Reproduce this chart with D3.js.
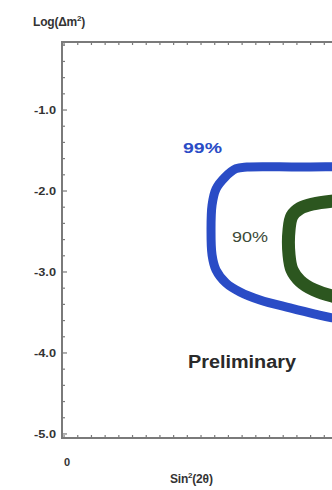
<!DOCTYPE html>
<html>
<head>
<meta charset="utf-8">
<script src="https://cdn.jsdelivr.net/npm/d3@7"></script>
<style>
  html, body { margin: 0; padding: 0; background: #fff; }
  svg { display: block; }
  text { font-family: "Liberation Sans", Arial, sans-serif; }
</style>
</head>
<body>
<svg id="chart" width="332" height="490"></svg>
<script>
// Allowed region contours in the (sin²2θ, log Δm²) plane
const contour99 = [
  [0.2672, -1.704], [0.2511, -1.725], [0.2350, -1.830], [0.2219, -1.975],
  [0.2161, -2.173], [0.2146, -2.481], [0.2161, -2.790], [0.2219, -2.975],
  [0.2365, -3.136], [0.2569, -3.247], [0.2861, -3.346], [0.3299, -3.444],
  [0.3664, -3.520], [0.3912, -3.565], [0.4467, -3.630], [0.5343, -3.346],
  [0.5489, -2.481], [0.5197, -1.741], [0.4613, -1.704], [0.3445, -1.704]
];
const contour90 = [
  [0.3912, -2.125], [0.3635, -2.160], [0.3445, -2.215], [0.3328, -2.309],
  [0.3285, -2.481], [0.3285, -2.790], [0.3328, -2.975], [0.3445, -3.111],
  [0.3650, -3.222], [0.3912, -3.296], [0.4321, -3.346], [0.4759, -3.222],
  [0.4905, -2.728], [0.4759, -2.173], [0.4321, -2.100]
];

// Axis ticks
const yMajorTicks = [-1, -2, -3, -4, -5];
const yTickLabels = ["-1.0", "-2.0", "-3.0", "-4.0", "-5.0"];
const yMinorTicks = d3.range(-5, -0.1, 0.2);
const xMinorTicks = d3.range(0, 0.41, 0.02);
const xTickLabels = [{ v: 0, t: "0" }];

// Contour labels
const levelLabels = [
  { text: "99%", x: 0.1737, y: -1.53, color: "#2a4cc6" },
  { text: "90%", x: 0.2453, y: -2.63, color: "#3c4a38" }
];

const svg = d3.select("#chart");
const plotLeft = 62, plotTop = 42, plotBottom = 438, plotRight = 338;

const x = d3.scaleLinear().domain([-0.003, 0.4]).range([plotLeft, plotRight]);
const y = d3.scaleLinear().domain([-5.05, -0.16]).range([plotBottom, plotTop]);

const plot = svg.append("g");
svg.append("clipPath").attr("id", "plotclip")
  .append("rect").attr("x", plotLeft).attr("y", plotTop)
  .attr("width", plotRight - plotLeft).attr("height", plotBottom - plotTop);

const line = d3.line()
  .x(d => x(d[0])).y(d => y(d[1]))
  .curve(d3.curveCatmullRomClosed.alpha(0.5));

const contours = plot.append("g").attr("clip-path", "url(#plotclip)");
contours.append("path").datum(contour99)
  .attr("d", line).attr("fill", "none")
  .attr("stroke", "#2a4cc6").attr("stroke-width", 9)
  .attr("stroke-linejoin", "round");
contours.append("path").datum(contour90)
  .attr("d", line).attr("fill", "none")
  .attr("stroke", "#2c561f").attr("stroke-width", 13)
  .attr("stroke-linejoin", "round");

// Frame (left, top, bottom)
const axisColor = "#7a7a7a";
plot.append("path")
  .attr("d", `M${plotRight},${plotTop}H${plotLeft}V${plotBottom}H${plotRight}`)
  .attr("fill", "none").attr("stroke", axisColor).attr("stroke-width", 2);

// Inward tick marks
const yMajorSet = new Set(yMajorTicks.map(v => v.toFixed(1)));
plot.append("g").selectAll("line").data(yMinorTicks).join("line")
  .attr("x1", plotLeft).attr("x2", d => plotLeft + (yMajorSet.has(d.toFixed(1)) ? 5 : 3))
  .attr("y1", d => y(d)).attr("y2", d => y(d))
  .attr("stroke", axisColor).attr("stroke-width", 1.2);

plot.append("g").selectAll("line").data(xMinorTicks).join("line")
  .attr("x1", d => x(d)).attr("x2", d => x(d))
  .attr("y1", plotBottom).attr("y2", plotBottom - 3)
  .attr("stroke", axisColor).attr("stroke-width", 1.2);
plot.append("g").selectAll("line").data(xMinorTicks).join("line")
  .attr("x1", d => x(d)).attr("x2", d => x(d))
  .attr("y1", plotTop).attr("y2", plotTop + 3)
  .attr("stroke", axisColor).attr("stroke-width", 1.2);

// Tick labels
svg.append("g").selectAll("text").data(yMajorTicks).join("text")
  .attr("x", 56).attr("y", d => y(d) + 4)
  .attr("text-anchor", "end")
  .attr("font-size", 11).attr("font-weight", "bold")
  .attr("textLength", 22).attr("lengthAdjust", "spacingAndGlyphs")
  .attr("fill", "#333")
  .text((d, i) => yTickLabels[i]);

svg.append("g").selectAll("text").data(xTickLabels).join("text")
  .attr("x", d => x(d.v) + 3).attr("y", 466)
  .attr("text-anchor", "middle")
  .attr("font-size", 11).attr("font-weight", "bold")
  .attr("fill", "#333")
  .text(d => d.t);

// Axis titles
const yTitle = svg.append("text").attr("x", 33).attr("y", 26)
  .attr("font-size", 12).attr("font-weight", "bold").attr("fill", "#333")
  .attr("letter-spacing", -0.2);
yTitle.append("tspan").text("Log(Δm");
yTitle.append("tspan").attr("font-size", 8).attr("dy", -5).text("2");
yTitle.append("tspan").attr("dy", 5).text(")");

const xTitle = svg.append("text").attr("x", 170).attr("y", 483)
  .attr("font-size", 12).attr("font-weight", "bold").attr("fill", "#333")
  .attr("letter-spacing", -0.2);
xTitle.append("tspan").text("Sin");
xTitle.append("tspan").attr("font-size", 8).attr("dy", -5).text("2");
xTitle.append("tspan").attr("dy", 5).text("(2θ)");

// Contour level labels
svg.append("g").selectAll("text").data(levelLabels).join("text")
  .attr("x", d => x(d.x)).attr("y", d => y(d.y))
  .attr("font-size", (d, i) => i === 0 ? 15 : 14)
  .attr("font-weight", (d, i) => i === 0 ? "bold" : "normal")
  .attr("textLength", (d, i) => i === 0 ? 39 : 36)
  .attr("lengthAdjust", "spacingAndGlyphs")
  .attr("fill", d => d.color)
  .text(d => d.text);

svg.append("text").attr("x", 188).attr("y", 368)
  .attr("font-size", 18).attr("font-weight", "bold").attr("fill", "#2a2a2a")
  .attr("textLength", 108).attr("lengthAdjust", "spacingAndGlyphs")
  .text("Preliminary");
</script>
</body>
</html>
